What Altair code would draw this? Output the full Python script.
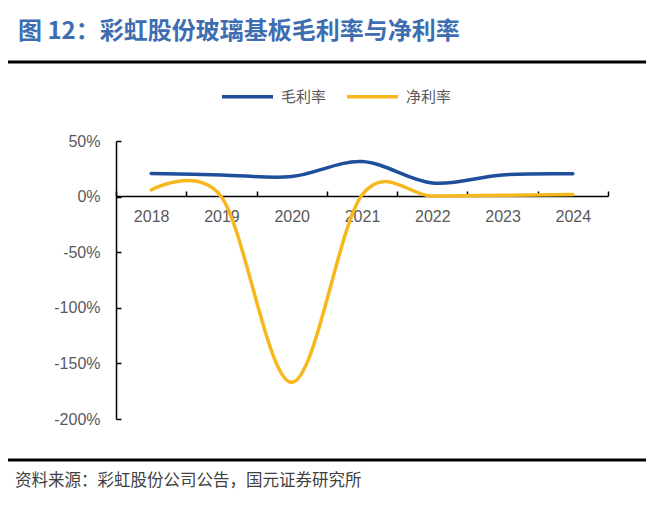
import altair as alt
import pandas as pd

years = ["2018", "2019", "2020", "2021", "2022", "2023", "2024"]
gross_margin = [0.207, 0.195, 0.180, 0.315, 0.123, 0.195, 0.205]
net_margin = [0.060, -0.003, -1.670, 0.015, 0.005, 0.012, 0.020]
series_names = ["毛利率", "净利率"]
series_colors = ["#1F4E9B", "#F7B81E"]
y_ticks = [0.5, 0.0, -0.5, -1.0, -1.5, -2.0]
title_text = "图 12：彩虹股份玻璃基板毛利率与净利率"
source_text = "资料来源：彩虹股份公司公告，国元证券研究所"

rows = []
for i, yr in enumerate(years):
    rows.append({"year": yr, "series": series_names[0], "value": gross_margin[i], "order": 0})
    rows.append({"year": yr, "series": series_names[1], "value": net_margin[i], "order": 1})
df = pd.DataFrame(rows)

W, H = 492, 278
CJK = "Noto Sans CJK SC"

lines = alt.Chart(df).mark_line(
    interpolate="cardinal", strokeWidth=3.5, strokeCap="round"
).encode(
    x=alt.X(
        "year:N",
        sort=years,
        bandPosition=0.5,
        scale=alt.Scale(type="band", paddingInner=0, paddingOuter=0),
        axis=alt.Axis(
            orient="top", offset=-55, title=None, tickBand="extent",
            tickSize=5, tickColor="black", tickWidth=1.5,
            domainColor="black", domainWidth=1.5,
            labelPadding=-25.5, labelBaseline="middle", labelAngle=0,
            labelFont="Liberation Sans", labelFontSize=16, labelColor="#595959",
            grid=False,
        ),
    ),
    y=alt.Y(
        "value:Q",
        scale=alt.Scale(domain=[-2.0, 0.5], nice=False, zero=False),
        axis=alt.Axis(
            orient="right", offset=-W, title=None, values=y_ticks, format=".0%",
            labelExpr="replace(datum.label, '\u2212', '-')",
            tickSize=5, tickColor="black", tickWidth=1.5,
            domainColor="black", domainWidth=1.5,
            labelAlign="right", labelPadding=-21, labelBaseline="middle",
            labelFont="Liberation Sans", labelFontSize=16, labelColor="#595959",
            grid=False,
        ),
    ),
    color=alt.Color(
        "series:N",
        sort=series_names,
        scale=alt.Scale(domain=series_names, range=series_colors),
        legend=alt.Legend(
            orient="none", legendX=104, legendY=-72, direction="horizontal",
            title=None, symbolType="stroke", symbolStrokeWidth=3.5, symbolSize=2601,
            labelFont=CJK, labelFontSize=15, labelColor="#595959",
            labelOffset=6, columnPadding=13,
        ),
    ),
    order="order:Q",
)

one = pd.DataFrame({"t": [title_text], "s": [source_text]})

title = alt.Chart(one).mark_text(
    align="left", baseline="middle", font=CJK, fontSize=24, fontWeight="bold", color="#3E6EB1"
).encode(text="t:N", x=alt.value(-98), y=alt.value(-109))

top_rule = alt.Chart(one).mark_rule(color="black", strokeWidth=3).encode(
    x=alt.value(-116), x2=alt.value(538), y=alt.value(-79)
)
bottom_rule = alt.Chart(one).mark_rule(color="black", strokeWidth=3).encode(
    x=alt.value(-116), x2=alt.value(538), y=alt.value(319)
)
source = alt.Chart(one).mark_text(
    align="left", baseline="middle", font=CJK, fontSize=16.5, color="#404040"
).encode(text="s:N", x=alt.value(-101), y=alt.value(340))

chart = alt.layer(lines, title, top_rule, bottom_rule, source).properties(
    width=W, height=H,
    padding={"left": 108, "top": 133, "right": 38, "bottom": 80},
    autosize=alt.AutoSizeParams(type="none"),
).configure_view(stroke=None)

chart.save("out.html", embed_options={"renderer": "svg", "actions": False})
